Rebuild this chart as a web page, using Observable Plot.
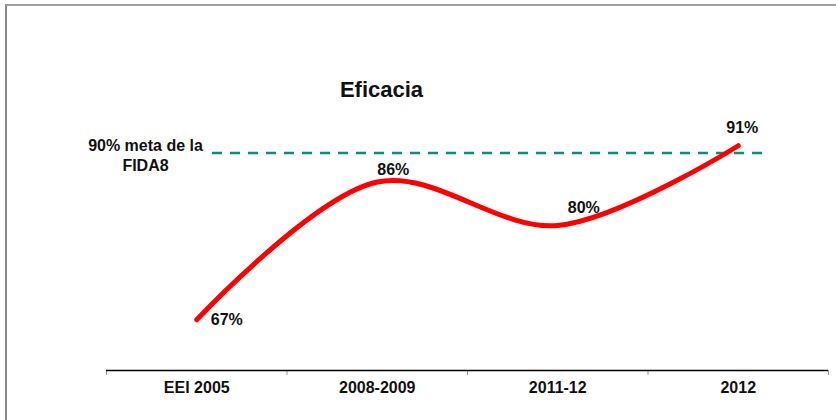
<!DOCTYPE html>
<html>
<head>
<meta charset="utf-8">
<script src="https://cdn.jsdelivr.net/npm/d3@7"></script>
<script src="https://cdn.jsdelivr.net/npm/@observablehq/plot@0.6"></script>
<style>
  html, body { margin: 0; padding: 0; background: #fff; }
  #wrap { position: relative; width: 836px; height: 420px; overflow: hidden; }
  #border { position: absolute; left: 5px; top: 4px; width: 840px; height: 430px;
            border-top: 2px solid #a0a0a0; border-left: 2px solid #8a8a8a; box-sizing: border-box; }
  #chart { position: absolute; left: 0; top: 0; }
</style>
</head>
<body>
<div id="wrap"><div id="border"></div><div id="chart"></div></div>
<script>
const title = "Eficacia";
const categories = ["EEI 2005", "2008-2009", "2011-12", "2012"];
const values = [67, 86, 80, 91];
const valueLabels = ["67%", "86%", "80%", "91%"];
const target = 90;
const targetLabel = "90% meta de la\nFIDA8";
const yDomain = [60, 100];

const rows = categories.map((c, i) => ({c, x: i + 0.5, v: values[i], label: valueLabels[i]}));

// label nudges (layout only)
const nudges = [[30, 0], [16, -12], [26, -18], [4, -18]];
const font = "'Liberation Sans', Arial, Helvetica, sans-serif";

const chart = Plot.plot({
  width: 836,
  height: 420,
  marginLeft: 106,
  marginRight: 8,
  marginTop: 80,
  marginBottom: 50,
  style: {fontFamily: font, background: "transparent", overflow: "visible"},
  x: {type: "linear", domain: [0, categories.length]},
  y: {domain: yDomain, axis: null},
  marks: [
    Plot.axisX({ticks: d3.range(categories.length + 1), tickSize: 5, tickFormat: () => "", stroke: "#999", label: null}),
    Plot.axisX({ticks: rows.map(d => d.x), tickSize: 0, tickPadding: 11,
      tickFormat: t => categories[Math.floor(t)], fontSize: 16, fontWeight: "bold", fill: "#111", label: null}),
    Plot.ruleY([yDomain[0]], {stroke: "#000", strokeWidth: 1.5}),
    Plot.ruleY([target], {stroke: "#118a80", strokeWidth: 2.5, strokeDasharray: "10,8", insetLeft: 106, insetRight: 66}),
    Plot.text([targetLabel], {frameAnchor: "left", y: () => target, dx: 39, dy: 2, textAnchor: "middle",
      lineAnchor: "middle", lineHeight: 1.25, fontSize: 16, fontWeight: "bold", fill: "#111"}),
    Plot.line(rows, {x: "x", y: "v", stroke: "#ff0000", strokeWidth: 5, curve: "catmull-rom", strokeLinecap: "round"}),
    ...rows.map((d, i) => Plot.text([d], {x: "x", y: "v", text: "label", dx: nudges[i][0], dy: nudges[i][1],
      fontSize: 16, fontWeight: "bold", fill: "#111"})),
    Plot.text([title], {frameAnchor: "top-left", dx: 275, dy: 9, textAnchor: "middle", lineAnchor: "middle",
      fontSize: 22, fontWeight: "bold", fill: "#111"})
  ]
});
document.getElementById("chart").appendChild(chart);
</script>
</body>
</html>
